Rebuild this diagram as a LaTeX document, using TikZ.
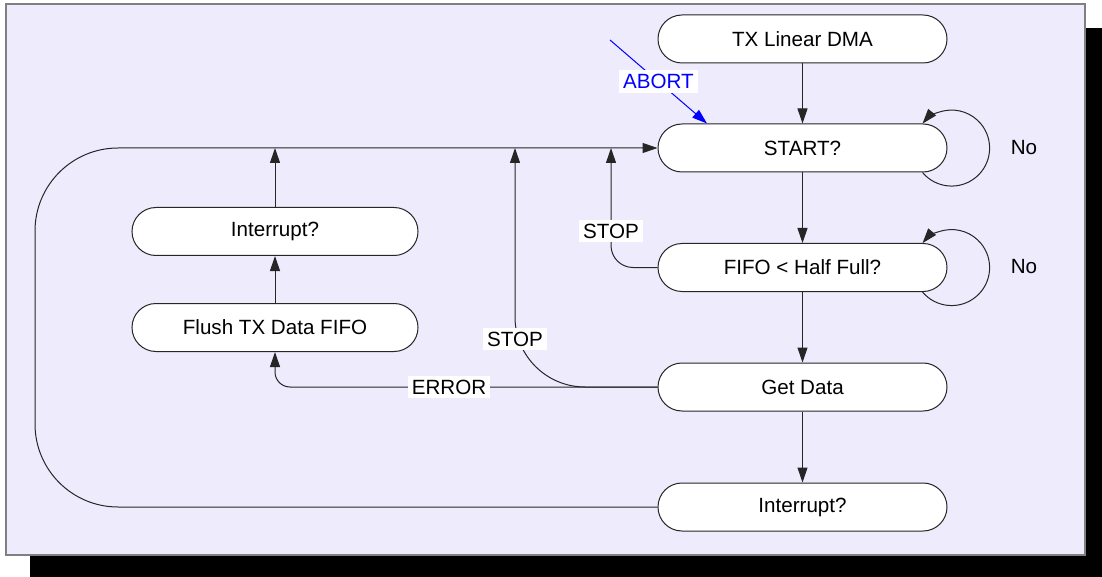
\documentclass[tikz,border=0pt]{standalone}
\usepackage{fontspec}
\setmainfont{Liberation Sans}
\usetikzlibrary{arrows.meta,calc}
\definecolor{panel}{HTML}{EEEBFC}
\tikzset{
  state/.style={draw=black!85, fill=white, line width=0.5pt, rounded corners=12pt,
    minimum height=24pt, inner sep=0pt, font=\fontsize{10.3}{12}\selectfont},
  wide/.style={state, minimum width=144.5pt},
  narrow/.style={state, minimum width=143pt},
  flow/.style={draw=black!85, line width=0.5pt, -{Triangle[length=7.5pt,width=5pt]}},
  tag/.style={fill=white, inner sep=2pt, font=\fontsize{10.3}{12}\selectfont},
  plain/.style={font=\fontsize{10.3}{12}\selectfont}
}
\begin{document}
\begin{tikzpicture}[x=0.5pt,y=-0.5pt]
  \useasboundingbox (0,0) rectangle (1102,577);
  % drop shadow and panel
  \fill[black] (30,28) rectangle (1102,577);
  \filldraw[fill=panel, draw=black!50, line width=0.6pt] (6,4) rectangle (1085,555);

  % states
  \node[wide]   (tx)    at (802.5,39)    {TX Linear DMA};
  \node[wide]   (start) at (802.5,148)   {START?};
  \node[wide]   (fifo)  at (802.5,267.5) {FIFO < Half Full?};
  \node[wide]   (get)   at (802.5,387)   {Get Data};
  \node[wide]   (intb)  at (802.5,507)   {Interrupt?};
  \node[narrow] (intl)  at (275,231.5)   {Interrupt?};
  \node[narrow] (flush) at (275,327.5)   {Flush TX Data FIFO};

  % junctions on the return line into START?
  \coordinate (j1) at (515,148);
  \coordinate (j2) at (611,148);
  \coordinate (abortsrc) at (610,40);

  % main sequence
  \draw[flow] (tx) -- (start);
  \draw[flow] (start) -- (fifo);
  \draw[flow] (fifo) -- (get);
  \draw[flow] (get) -- (intb);

  % wait loops
  \draw[flow] ([xshift=-12.5pt]start.south east) arc[start angle=-140, end angle=140, radius=19pt];
  \draw[flow] ([xshift=-12.5pt]fifo.south east) arc[start angle=-140, end angle=140, radius=19pt];
  \node[plain] (no1) at (1024,148) {No};
  \node[plain] (no2) at (1024,267) {No};

  % return path from the final interrupt
  \draw[flow, rounded corners=41.5pt] (intb.west) -| (35,148) -- (start.west);

  % error handling
  \draw[flow, rounded corners=7.5pt] (get.west) -| (flush.south);
  \draw[flow] (flush) -- (intl);
  \draw[flow] (intl.north) -- (intl.north |- start.west);

  % stop branches
  \draw[flow, rounded corners=35pt] (get.west) -| (j1);
  \draw[flow, rounded corners=11pt] (fifo.west) -| (j2);

  % branch labels
  \node[tag] (stop1) at (515,339) {STOP};
  \node[tag] (stop2) at (611,231) {STOP};
  \node[tag] (err)   at (449,387) {ERROR};

  % abort entry
  \draw[blue, line width=0.5pt, -{Triangle[length=7.5pt,width=5pt]}]
    (abortsrc) -- node[tag, text=blue, pos=0.5] (abort) {ABORT} ([xshift=-47.75pt]start.north);
\end{tikzpicture}
\end{document}
